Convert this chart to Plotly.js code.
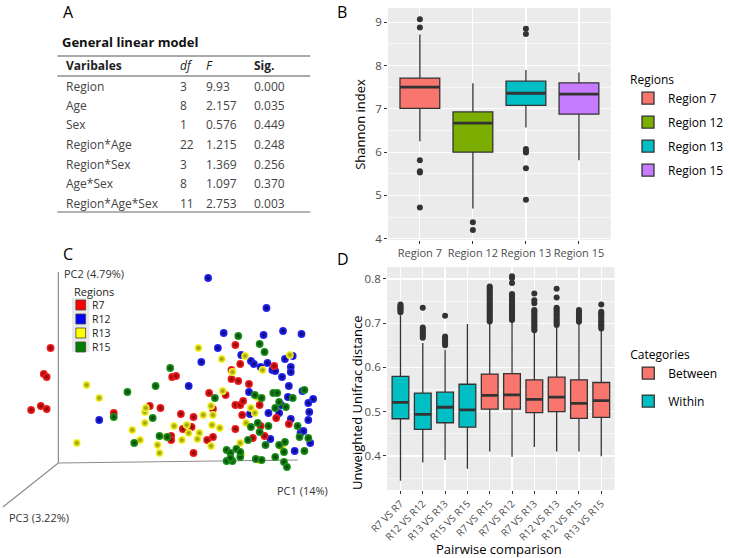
<!DOCTYPE html>
<html>
<head>
<meta charset="utf-8">
<script src="https://cdn.plot.ly/plotly-3.0.1.min.js"></script>
<style>
  body { margin: 0; background: #fff; }
  #plot { width: 729px; height: 558px; }
</style>
</head>
<body>
<div id="plot"></div>
<script>
// A: general linear model table
var glmVars = ["Region", "Age", "Sex", "Region*Age", "Region*Sex", "Age*Sex", "Region*Age*Sex"];
var glmDf = ["3", "8", "1", "22", "3", "8", "11"];
var glmF = ["9.93", "2.157", "0.576", "1.215", "1.369", "1.097", "2.753"];
var glmSig = ["0.000", "0.035", "0.449", "0.248", "0.256", "0.370", "0.003"];

// B: shannon index per region
var regionNames = ["Region 7", "Region 12", "Region 13", "Region 15"];
var shannonQ1 = [7.01, 6.00, 7.08, 6.88];
var shannonMedian = [7.50, 6.67, 7.36, 7.34];
var shannonQ3 = [7.71, 6.93, 7.64, 7.60];
var shannonLow = [6.25, 4.70, 6.57, 5.81];
var shannonHigh = [8.72, 7.59, 7.90, 7.84];
var shannonOutliers = [
  [9.07, 8.88, 5.81, 5.56, 5.53, 4.72],
  [4.38, 4.20],
  [8.85, 8.73, 6.07, 6.02, 5.99, 5.63, 4.90],
  []
];

// C: PCoA (projected position, PC1 across / PC2 up)
var r7X = [-8, -15, -12, -28, -18, -12, 57, 94, 105, 117, 121, 126, 139, 128, 137, 116, 116, 139, 153, 159, 155, 172, 159, 178, 178, 185, 182, 187, 196, 182, 187, 190, 189, 200, 182, 208, 212, 222, 224, 237, 207];
var r7Y = [115, 89, 86, 53, 57, 54, 50, 57, 55, 86, 87, 49, 46, 34, 36, 27, 23, 10, 23, 26, 70, 68, 54, 93, 84, 82, 118, 99, 79, 58, 58, 62, 48, 25, 34, 37, 27, 97, 45, 39, 58];
var r12X = [154, 214, 170, 164, 211, 231, 250, 147, 188, 198, 201, 208, 215, 220, 223, 233, 241, 239, 239, 230, 134, 196, 237, 251, 262, 236, 257, 258, 257, 229, 216, 227, 197, 239, 249, 252, 259, 243, 218, 42];
var r12Y = [185, 155, 130, 115, 128, 132, 129, 101, 108, 102, 99, 96, 100, 93, 92, 104, 107, 96, 91, 86, 77, 71, 77, 72, 64, 66, 60, 51, 43, 58, 50, 50, 49, 44, 30, 32, 20, 12, 24, 43];
var r13X = [29, 42, 19, 89, 89, 76, 84, 102, 104, 119, 132, 134, 127, 145, 143, 149, 158, 159, 157, 144, 168, 179, 169, 166, 192, 210, 204, 198, 193, 187, 188, 157, 206, 230, 238, 202, 111, 90];
var r13Y = [78, 65, 20, 51, 40, 33, 23, 18, 10, 37, 38, 30, 23, 30, 24, 48, 38, 48, 57, 115, 104, 91, 72, 35, 107, 93, 66, 55, 40, 20, 9, 17, 3, 15, 108, 50, 26, 55];
var r15X = [71, 100, 57, 97, 115, 161, 185, 207, 212, 78, 104, 112, 173, 177, 183, 187, 173, 179, 187, 177, 203, 209, 223, 232, 235, 232, 233, 221, 227, 234, 241, 253, 209, 205, 207, 216, 195, 198, 213, 227, 246, 248, 253, 257, 223, 202, 225];
var r15Y = [71, 77, 46, 45, 95, 65, 127, 119, 111, 20, 27, 26, 13, 10, 14, 6, 2, 2, 11, 5, 4, 3, 6, 1, -4, 11, 21, 70, 61, 56, 65, 73, 65, 40, 31, 37, 23, 36, 18, 18, 37, 26, 12, 25, 55, 68, 70];

// D: unweighted unifrac distance per pairwise comparison
var withinPairs = ["R7 VS R7", "R12 VS R12", "R13 VS R13", "R15 VS R15"];
var withinQ1 = [0.484, 0.460, 0.475, 0.465];
var withinMedian = [0.521, 0.494, 0.510, 0.504];
var withinQ3 = [0.580, 0.542, 0.544, 0.562];
var withinLow = [0.344, 0.385, 0.391, 0.371];
var withinHigh = [0.718, 0.655, 0.640, 0.698];
var withinOutliers = [
  [0.725, 0.728, 0.731, 0.733, 0.736, 0.739, 0.742],
  [0.667, 0.671, 0.675, 0.679, 0.683, 0.687, 0.690, 0.735],
  [0.650, 0.654, 0.658, 0.662, 0.666, 0.670, 0.717],
  []
];
var betweenPairs = ["R7 VS R15", "R7 VS R12", "R7 VS R13", "R12 VS R13", "R12 VS R15", "R13 VS R15"];
var betweenQ1 = [0.506, 0.506, 0.498, 0.500, 0.485, 0.487];
var betweenMedian = [0.537, 0.538, 0.528, 0.533, 0.519, 0.525];
var betweenQ3 = [0.585, 0.586, 0.572, 0.578, 0.572, 0.566];
var betweenLow = [0.410, 0.398, 0.420, 0.410, 0.410, 0.399];
var betweenHigh = [0.700, 0.703, 0.680, 0.692, 0.700, 0.684];
var betweenOutliers = [
  [0.704, 0.708, 0.712, 0.716, 0.720, 0.724, 0.728, 0.732, 0.736, 0.740, 0.744, 0.748, 0.752, 0.756, 0.760, 0.764, 0.768, 0.772, 0.776, 0.780, 0.783],
  [0.707, 0.711, 0.715, 0.719, 0.723, 0.727, 0.731, 0.735, 0.739, 0.743, 0.747, 0.751, 0.755, 0.759, 0.763, 0.766, 0.791, 0.802, 0.806],
  [0.684, 0.688, 0.692, 0.696, 0.700, 0.704, 0.708, 0.712, 0.716, 0.720, 0.724, 0.728, 0.730, 0.745, 0.752, 0.767],
  [0.696, 0.700, 0.704, 0.708, 0.712, 0.716, 0.720, 0.724, 0.728, 0.732, 0.735, 0.758, 0.778],
  [0.703, 0.707, 0.711, 0.715, 0.719, 0.723, 0.727, 0.730],
  [0.688, 0.692, 0.696, 0.700, 0.704, 0.708, 0.712, 0.716, 0.720, 0.723, 0.726, 0.742]
];

var regionColors = ["#F8766D", "#7CAE00", "#00BFC4", "#C77CFF"];
var FONT = "Open Sans, Noto Sans, sans-serif";
var INK = "#333333";

// pixel -> paper helpers
var px = function(x) { return x / 729; };
var py = function(y) { return 1 - y / 558; };

var traces = [];
var shapes = [];
var annotations = [];

function addText(text, x, y, opts) {
  opts = opts || {};
  annotations.push({
    xref: "paper", yref: "paper", x: px(x), y: py(y),
    text: text, showarrow: false,
    xanchor: opts.xanchor || "left", yanchor: opts.yanchor || "middle",
    textangle: opts.angle || 0,
    font: {family: FONT, size: opts.size || 12, color: opts.color || "#000"}
  });
}

function hline(x0, x1, y, color, width) {
  shapes.push({
    type: "line", xref: "paper", yref: "paper",
    x0: px(x0), x1: px(x1), y0: py(y), y1: py(y),
    line: {color: color, width: width}
  });
}

// ---------- panel A ----------
addText("A", 63, 12, {size: 16});
addText("<b>General linear model</b>", 62, 42, {size: 13, color: "#111"});
hline(59, 319, 56, "#555", 1);
hline(59, 319, 76, "#555", 1.2);
hline(59, 319, 212, "#999", 1.5);
var colX = [66, 183, 210, 259];
addText("<b>Varibales</b>", colX[0], 65, {color: "#222"});
addText("<i>df</i>", colX[1], 65, {color: "#222"});
addText("<i>F</i>", colX[2], 65, {color: "#222"});
addText("<b>Sig.</b>", colX[3], 65, {color: "#222"});
glmVars.forEach(function(v, i) {
  var y = 86 + i * 19.5;
  addText(v, colX[0], y, {color: "#444"});
  addText(glmDf[i], colX[1], y, {color: "#444"});
  addText(glmF[i], colX[2], y, {color: "#444"});
  addText(glmSig[i], colX[3], y, {color: "#444"});
});

// ---------- panel B ----------
addText("B", 344, 12, {size: 16});
regionNames.forEach(function(name, i) {
  var box = {
    type: "box", name: name, x: [name],
    q1: [shannonQ1[i]], median: [shannonMedian[i]], q3: [shannonQ3[i]],
    lowerfence: [shannonLow[i]], upperfence: [shannonHigh[i]],
    boxpoints: "outliers", jitter: 0, pointpos: 0,
    width: 0.75, whiskerwidth: 0,
    fillcolor: regionColors[i],
    line: {color: INK, width: 1.3},
    marker: {color: INK, size: 6, line: {width: 0}},
    xaxis: "x", yaxis: "y",
    legend: "legend", legendgroup: name,
    hoverinfo: "skip"
  };
  if (shannonOutliers[i].length) box.y = [shannonOutliers[i]];
  traces.push(box);
  shapes.push({
    type: "line", xref: "x", yref: "y",
    x0: i - 0.375, x1: i + 0.375, y0: shannonMedian[i], y1: shannonMedian[i],
    line: {color: INK, width: 2.8}
  });
});
addText("Shannon index", 370, 124, {angle: -90, size: 13, xanchor: "center", yanchor: "middle"});

// ---------- panel C ----------
addText("C", 63, 254, {size: 16});
var pcoaSets = [
  {x: r12X, y: r12Y, color: "#2a2aff", edge: "#00006e"},
  {x: r7X, y: r7Y, color: "#ff2222", edge: "#7a0000"},
  {x: r13X, y: r13Y, color: "#ffff33", edge: "#8a8a00"},
  {x: r15X, y: r15Y, color: "#1f9a1f", edge: "#003a00"}
];
pcoaSets.forEach(function(s) {
  traces.push({
    type: "scatter", mode: "markers", x: s.x, y: s.y,
    marker: {color: s.color, size: 7.8, gradient: {type: "radial", color: s.edge}, line: {width: 0}},
    xaxis: "x3", yaxis: "y3", showlegend: false, hoverinfo: "skip"
  });
});
// projected axes
[[0, 191], [246, 3], [-57, -44]].forEach(function(end) {
  shapes.push({
    type: "line", xref: "x3", yref: "y3", x0: 0, y0: 0, x1: end[0], y1: end[1],
    line: {color: "#8c8c8c", width: 1.2}, layer: "below"
  });
});
addText("PC2 (4.79%)", 64, 273, {size: 11, color: "#333"});
addText("PC1 (14%)", 283, 490, {size: 11, color: "#333"});
addText("PC3 (3.22%)", 7, 517, {size: 11, color: "#333"});

// legend of panel C
var pcoaLabels = ["R7", "R12", "R13", "R15"];
var pcoaKey = ["#ff0000", "#0000ff", "#ffff00", "#008000"];
addText("Regions", 74, 291, {size: 11, color: "#222"});
shapes.push({type: "rect", xref: "paper", yref: "paper", x0: px(74), x1: px(92), y0: py(352), y1: py(298),
  fillcolor: "#e8e8e8", line: {width: 0}});
pcoaLabels.forEach(function(lab, i) {
  var cy = 305 + i * 14;
  shapes.push({type: "rect", xref: "paper", yref: "paper", x0: px(78), x1: px(88), y0: py(cy + 5), y1: py(cy - 5),
    fillcolor: pcoaKey[i], line: {color: "#444", width: 0.8}});
  addText(lab, 93, cy, {size: 10.5, color: "#222"});
});

// ---------- panel D ----------
addText("D", 344, 259, {size: 16});
var allPairs = withinPairs.concat(betweenPairs);
var groups = [
  {name: "Between", pairs: betweenPairs, q1: betweenQ1, med: betweenMedian, q3: betweenQ3,
    lo: betweenLow, hi: betweenHigh, out: betweenOutliers, color: "#F8766D"},
  {name: "Within", pairs: withinPairs, q1: withinQ1, med: withinMedian, q3: withinQ3,
    lo: withinLow, hi: withinHigh, out: withinOutliers, color: "#00BFC4"}
];
groups.forEach(function(g) {
  traces.push({
    type: "box", name: g.name, x: g.pairs,
    q1: g.q1, median: g.med, q3: g.q3, lowerfence: g.lo, upperfence: g.hi,
    y: g.out,
    boxpoints: "outliers", jitter: 0, pointpos: 0,
    width: 0.75, whiskerwidth: 0,
    fillcolor: g.color,
    line: {color: INK, width: 1.3},
    marker: {color: INK, size: 6, line: {width: 0}},
    xaxis: "x2", yaxis: "y2",
    legend: "legend2", legendgroup: g.name,
    hoverinfo: "skip"
  });
  g.pairs.forEach(function(p, j) {
    var k = allPairs.indexOf(p);
    shapes.push({
      type: "line", xref: "x2", yref: "y2",
      x0: k - 0.375, x1: k + 0.375, y0: g.med[j], y1: g.med[j],
      line: {color: INK, width: 2.8}
    });
  });
});
addText("Unweighted Unifrac distance", 367, 403, {angle: -90, size: 13, xanchor: "center"});
addText("Pairwise comparison", 513, 549, {size: 13, xanchor: "center"});

// grey ggplot panels
["", "2"].forEach(function(n) {
  shapes.push({
    type: "rect", xref: "x" + n + " domain", yref: "y" + n + " domain",
    x0: 0, x1: 1, y0: 0, y1: 1, fillcolor: "#EBEBEB", line: {width: 0}, layer: "below"
  });
});

function ggAxis(extra) {
  var base = {
    showline: false, zeroline: false, showgrid: true,
    gridcolor: "#ffffff", gridwidth: 1.2,
    ticks: "outside", ticklen: 3, tickwidth: 1, tickcolor: INK,
    tickfont: {family: FONT, size: 11.5, color: "#4D4D4D"},
    automargin: false, fixedrange: true
  };
  for (var k in extra) base[k] = extra[k];
  return base;
}

var layout = {
  width: 729, height: 558,
  margin: {l: 0, r: 0, t: 0, b: 0},
  paper_bgcolor: "#ffffff", plot_bgcolor: "rgba(0,0,0,0)",
  font: {family: FONT},
  showlegend: true,
  xaxis: ggAxis({domain: [px(399), px(628)], anchor: "y", type: "category",
    categoryorder: "array", categoryarray: regionNames, range: [-0.6, 3.6],
    tickangle: 0, tickfont: {family: FONT, size: 11, color: "#4D4D4D"}}),
  yaxis: ggAxis({domain: [py(240), py(8)], anchor: "x", range: [3.97, 9.33],
    dtick: 1, tick0: 0,
    minor: {dtick: 0.5, showgrid: true, gridcolor: "#ffffff", gridwidth: 0.6, ticklen: 0}}),
  xaxis2: ggAxis({domain: [px(398), px(632)], anchor: "y2", type: "category",
    categoryorder: "array", categoryarray: allPairs, range: [-0.6, 9.6],
    tickangle: -45, tickfont: {family: FONT, size: 10, color: "#4D4D4D"}}),
  yaxis2: ggAxis({domain: [py(490), py(267)], anchor: "x2", range: [0.323, 0.827],
    dtick: 0.1, tick0: 0,
    minor: {dtick: 0.05, showgrid: true, gridcolor: "#ffffff", gridwidth: 0.6, ticklen: 0}}),
  xaxis3: {domain: [0, px(340)], anchor: "y3", range: [-60, 280], visible: false, fixedrange: true},
  yaxis3: {domain: [py(540), py(260)], anchor: "x3", range: [-77, 203], visible: false, fixedrange: true},
  legend: {
    x: px(646), y: py(68), xanchor: "left", yanchor: "top",
    bgcolor: "rgba(0,0,0,0)", tracegroupgap: 5,
    title: {text: "Regions", font: {family: FONT, size: 12, color: "#000"}},
    font: {family: FONT, size: 12, color: "#000"}
  },
  legend2: {
    x: px(646), y: py(343), xanchor: "left", yanchor: "top",
    bgcolor: "rgba(0,0,0,0)", tracegroupgap: 9,
    title: {text: "Categories", font: {family: FONT, size: 12, color: "#000"}},
    font: {family: FONT, size: 12, color: "#000"}
  },
  shapes: shapes,
  annotations: annotations
};

Plotly.newPlot("plot", traces, layout, {staticPlot: true});
</script>
</body>
</html>
